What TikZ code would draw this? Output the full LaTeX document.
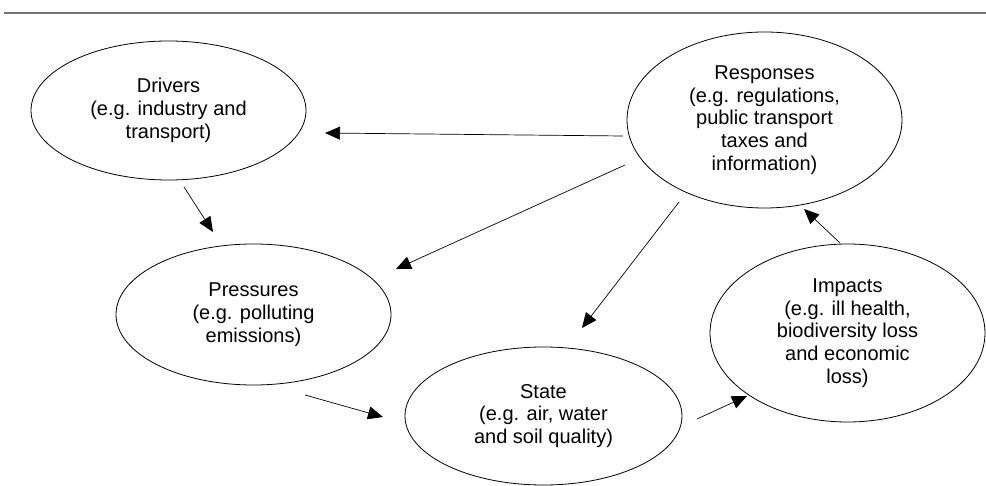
\documentclass[tikz,border=0pt]{standalone}
\usepackage{fontspec}
\setmainfont{Liberation Sans}
\usetikzlibrary{shapes.geometric,arrows.meta,positioning}

\tikzset{
  stage/.style={draw, ellipse, line width=0.8pt, align=center, inner sep=0pt,
                font=\fontsize{20}{22.8}\selectfont},
  flow/.style={-{Triangle[length=15pt,width=13pt]}, line width=0.7pt}
}

\begin{document}
\begin{tikzpicture}[x=1pt, y=-1pt]
\useasboundingbox (0,0) rectangle (986,486);
% rule at the top
\draw[line width=1.5pt, black!55] (4,13) -- (986,13);

% DPSIR stages
\node[stage, minimum width=275pt, minimum height=139pt] (drivers) at (168.5,110.5)
  {Drivers\\(e.g. industry and\\transport)};
\node[stage, minimum width=275pt, minimum height=176pt] (responses) at (764.5,120)
  {Responses\\(e.g. regulations,\\public transport\\taxes and\\information)};
\node[stage, minimum width=275pt, minimum height=141pt] (pressures) at (253.5,314.5)
  {Pressures\\(e.g. polluting\\emissions)};
\node[stage, minimum width=277pt, minimum height=138pt] (state) at (543.5,416)
  {State\\(e.g. air, water\\and soil quality)};
\node[stage, minimum width=275pt, minimum height=178pt] (impacts) at (847.5,333)
  {Impacts\\(e.g. ill health,\\biodiversity loss\\and economic\\loss)};

% arrow ends (arrows stop short of the ellipses)
\coordinate (r2d-a) at (623,136);  \coordinate (r2d-b) at (325,133);
\coordinate (d2p-a) at (184,187);  \coordinate (d2p-b) at (213,232);
\coordinate (r2p-a) at (625,165);  \coordinate (r2p-b) at (396,269);
\coordinate (r2s-a) at (679,202);  \coordinate (r2s-b) at (582,328);
\coordinate (p2s-a) at (305,395);  \coordinate (p2s-b) at (383,417);
\coordinate (s2i-a) at (697,419);  \coordinate (s2i-b) at (747,396);
\coordinate (i2r-a) at (840,243);  \coordinate (i2r-b) at (804,209);

\draw[flow] (r2d-a) -- (r2d-b);
\draw[flow] (d2p-a) -- (d2p-b);
\draw[flow] (r2p-a) -- (r2p-b);
\draw[flow] (r2s-a) -- (r2s-b);
\draw[flow] (p2s-a) -- (p2s-b);
\draw[flow] (s2i-a) -- (s2i-b);
\draw[flow] (i2r-a) -- (i2r-b);
\end{tikzpicture}
\end{document}
